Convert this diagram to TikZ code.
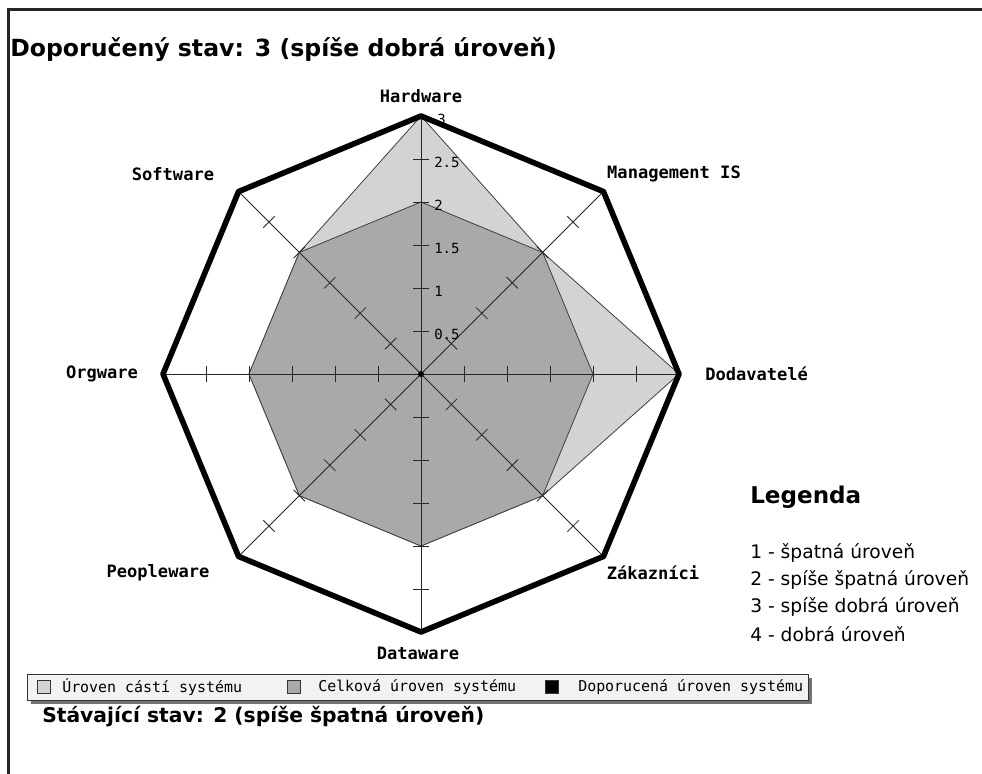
\documentclass[tikz,border=0pt]{standalone}
\usepackage{fontspec}
\usepackage{graphicx}
\setmainfont{DejaVu Sans}
\newfontfamily\pixfont{DejaVu Sans Mono}
\usetikzlibrary{calc}
\definecolor{lightfill}{HTML}{D3D3D3}
\definecolor{darkfill}{HTML}{A9A9A9}
\definecolor{legbg}{HTML}{F2F2F2}
\tikzset{
  axisline/.style={draw=black!85, line width=0.6pt},
  polyline/.style={draw=black!75, line width=0.6pt},
  axisname/.style={font=\pixfont\bfseries\fontsize{12.8}{15}\selectfont, inner sep=0pt},
  vallabel/.style={font=\pixfont\fontsize{10.5}{12}\selectfont, anchor=west, inner sep=0pt},
  legtext/.style={font=\pixfont\fontsize{11.2}{13}\selectfont, anchor=west, inner sep=0pt},
  keytext/.style={font=\fontsize{14}{17}\selectfont, anchor=west, inner sep=0pt},
  swatch/.style={draw=black!80, line width=0.6pt, minimum size=9.75pt, inner sep=0pt}
}
\begin{document}
\begin{tikzpicture}[x=0.75pt,y=-0.75pt]
\useasboundingbox (0,0) rectangle (982,774);
\fill[white] (0,0) rectangle (982,774);
% frame
\draw[line width=2.25pt, black!85] (8,774) -- (8,10) -- (982,10);
% titles
\node[anchor=west, inner sep=0pt] (toptitle) at (10,50) {\resizebox{410pt}{!}{\bfseries Doporučený stav: 3 (spíše dobrá úroveň)}};
\node[anchor=west, inner sep=0pt] (bottitle) at (42,717) {\resizebox{331.5pt}{!}{\bfseries Stávající stav: 2 (spíše špatná úroveň)}};
% radar
\begin{scope}[shift={(421,374)}, y=0.75pt]
  \filldraw[fill=lightfill, polyline] (90:258) -- (45:172) -- (0:258) -- (-45:172) -- (-90:172) -- (-135:172) -- (180:172) -- (135:172) -- cycle;
  \filldraw[fill=darkfill, polyline] (90:172) -- (45:172) -- (0:172) -- (-45:172) -- (-90:172) -- (-135:172) -- (180:172) -- (135:172) -- cycle;
  \foreach \a in {0,45,...,315} {
    \draw[axisline] (0,0) -- (\a:258);
    \foreach \r in {43,86,129,172,215} {
      \draw[axisline, rotate=\a] (\r,-8) -- (\r,8);
    }
  }
  \node[vallabel] (v05) at (13,40) {0.5};
  \node[vallabel] (v10) at (13,83) {1};
  \node[vallabel] (v15) at (13,126) {1.5};
  \node[vallabel] (v20) at (13,169) {2};
  \node[vallabel] (v25) at (13,212) {2.5};
  \node[vallabel] (v30) at (16,255) {3};
  \draw[line width=4.2pt, line join=round] (0:258) -- (45:258) -- (90:258) -- (135:258) -- (180:258) -- (225:258) -- (270:258) -- (315:258) -- cycle;
  \fill[black] (0,0) circle (3);
\end{scope}
% axis names
\node[axisname] (hw) at (421,96) {Hardware};
\node[axisname] (mis) at (674,174) {Management IS};
\node[axisname, anchor=west] (dod) at (705,374) {Dodavatelé};
\node[axisname] (zak) at (653,573) {Zákazníci};
\node[axisname] (dw) at (418,653) {Dataware};
\node[axisname] (pw) at (158,573) {Peopleware};
\node[axisname] (ow) at (102,374) {Orgware};
\node[axisname] (sw) at (173,174) {Software};
% legend box
\fill[black!55] (31,678) rectangle (812,704);
\filldraw[fill=legbg, draw=black!80, line width=0.75pt] (27,674) rectangle (808,700);
\node[swatch, fill=lightfill] (s1) at (44,687) {};
\node[legtext] (t1) at (62,687) {Úroven cástí systému};
\node[swatch, fill=darkfill] (s2) at (294,687) {};
\node[legtext] (t2) at (318,687) {Celková úroven systému};
\node[swatch, fill=black] (s3) at (552,687) {};
\node[legtext] (t3) at (578,687) {Doporucená úroven systému};
% key
\node[anchor=west, inner sep=0pt, font=\bfseries\fontsize{17.3}{21}\selectfont] (leg) at (750,497) {Legenda};
\node[keytext] (k1) at (750,553) {1 - špatná úroveň};
\node[keytext] (k2) at (750,580) {2 - spíše špatná úroveň};
\node[keytext] (k3) at (750,607) {3 - spíše dobrá úroveň};
\node[keytext] (k4) at (750,634) {4 - dobrá úroveň};
\end{tikzpicture}
\end{document}
